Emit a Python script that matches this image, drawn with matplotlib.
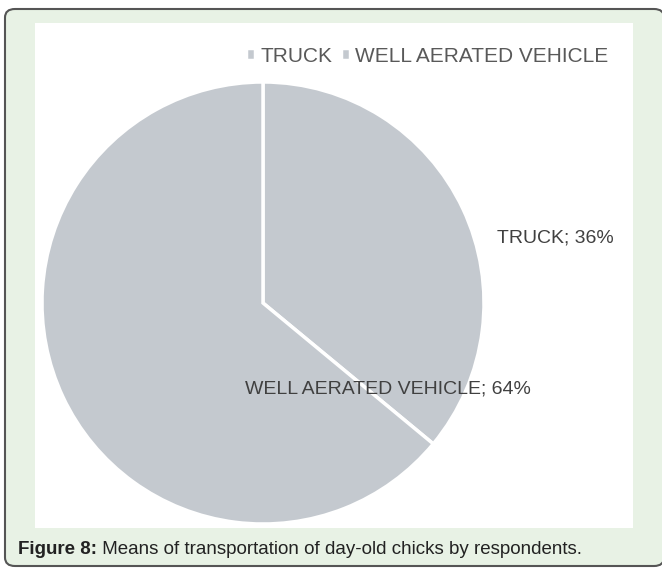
import matplotlib
matplotlib.use("Agg")
import matplotlib.pyplot as plt
from matplotlib.patches import FancyBboxPatch, Rectangle

categories = ["TRUCK", "WELL AERATED VEHICLE"]
values = [36, 64]
caption_bold = "Figure 8:"
caption_text = " Means of transportation of day-old chicks by respondents."

W, H = 662, 572
fig = plt.figure(figsize=(W / 100, H / 100), dpi=100)
fig.patch.set_facecolor("white")

def fx(px):
    return px / W

def fy(py):
    return 1 - py / H

# background axes for frame
bg = fig.add_axes([0, 0, 1, 1], zorder=-10)
bg.set_xlim(0, 1)
bg.set_ylim(0, 1)
bg.axis("off")
frame = FancyBboxPatch((fx(5), fy(566)), fx(664) - fx(5), fy(9) - fy(566),
                       boxstyle="round,pad=0,rounding_size=0.015",
                       facecolor="#e8f2e5", edgecolor="#555555", linewidth=1.5,
                       clip_on=False)
bg.add_patch(frame)
panel = Rectangle((fx(35), fy(528)), fx(633) - fx(35), fy(23) - fy(528),
                  facecolor="white", edgecolor="none")
bg.add_patch(panel)

cx, cy, r = 263, 303, 221
ax = fig.add_axes([fx(cx - r), fy(cy + r), (2 * r) / W, (2 * r) / H], zorder=1)
colors = ["#c4c9cf", "#c4c9cf"]
wedges, _ = ax.pie(values, colors=colors, startangle=90, counterclock=False,
                   wedgeprops=dict(edgecolor="white", linewidth=2.5))
ax.set_xlim(-1, 1)
ax.set_ylim(-1, 1)
ax.set_aspect("equal")
ax.axis("off")

label_pos = [(1.06, 0.294), (-0.081, -0.389)]
for cat, val, (lx, ly) in zip(categories, values, label_pos):
    ax.text(lx, ly, f"{cat}; {val}%", ha="left", va="center", fontsize=14,
            color="#404040", family="Liberation Sans", clip_on=False)

# legend
leg = fig.legend(wedges, categories, loc="center", bbox_to_anchor=(fx(427), fy(56)),
                 ncol=2, frameon=False, handlelength=0.45, handleheight=0.45,
                 handletextpad=0.25, columnspacing=0.4,
                 prop=dict(family="Liberation Sans", size=15))
leg.set_zorder(5)
for t in leg.get_texts():
    t.set_color("#595959")

# caption
t1 = fig.text(fx(18), fy(549), caption_bold, fontsize=13.5, fontweight="bold",
              family="Liberation Sans", color="#222222", va="center", ha="left")
fig.canvas.draw()
bb = t1.get_window_extent()
fig.text(bb.x1 / W, fy(549), caption_text, fontsize=13.5, family="Liberation Sans",
         color="#222222", va="center", ha="left")

fig.savefig("out.png", dpi=100)
